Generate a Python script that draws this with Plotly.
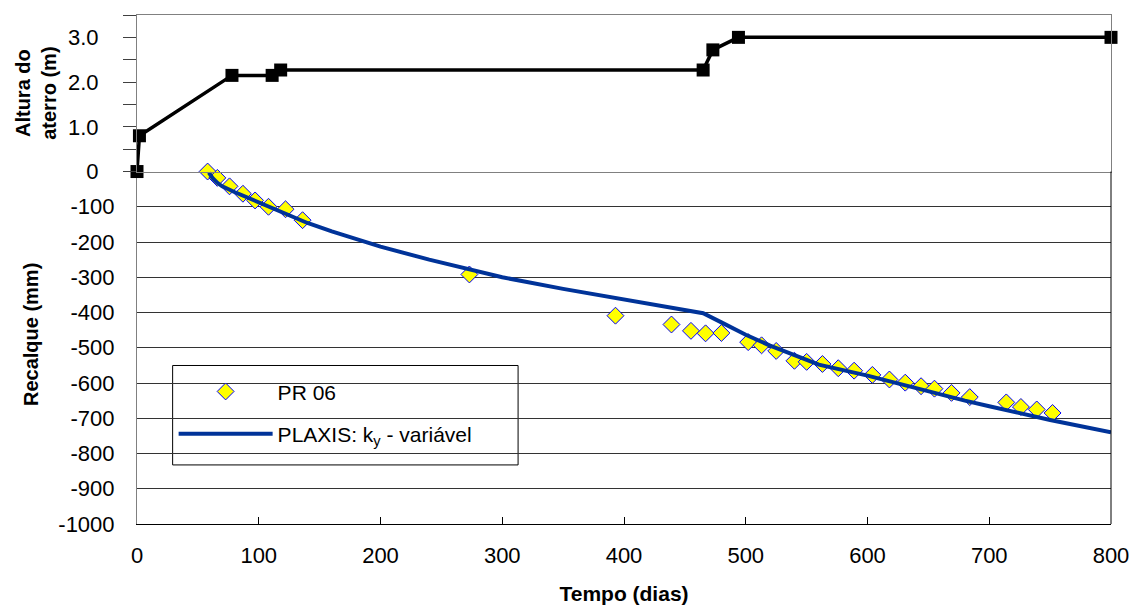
import plotly.graph_objects as go

# ---- data ----
fill_days = [0, 2, 78, 111, 118, 465, 473, 494, 800]
fill_height_m = [0, 0.8, 2.15, 2.15, 2.27, 2.27, 2.72, 3.0, 3.0]

pr06_days = [58, 66, 76, 87, 97, 108, 122, 136, 273, 393, 439, 455, 467, 480,
             502, 513, 525, 540, 550, 563, 576, 589, 604, 618, 631, 644, 655,
             669, 684, 714, 726, 739, 752]
pr06_mm = [0, -18, -42, -63, -82, -100, -107, -138, -292, -409, -434, -452,
           -459, -458, -484, -493, -509, -537, -540, -546, -558, -565, -577,
           -590, -599, -609, -616, -628, -640, -655, -668, -675, -685]

plaxis_days = [59, 62, 66, 70, 80, 90, 100, 110, 120, 140, 160, 200, 240, 300,
               350, 400, 440, 465, 480, 500, 520, 540, 560, 600, 640, 680, 700,
               750, 800]
plaxis_mm = [-3, -18, -32, -42, -58, -73, -88, -103, -118, -146, -170, -213,
             -250, -300, -333, -364, -386, -402, -428, -463, -494, -522, -548,
             -579, -615, -650, -666, -705, -740]

x_ticks = [0, 100, 200, 300, 400, 500, 600, 700, 800]
y_ticks_mm = [-1000, -900, -800, -700, -600, -500, -400, -300, -200, -100]
y_ticktext_mm = ["-1000", "-900", "-800", "-700", "-600", "-500", "-400",
                 "-300", "-200", "-100"]
y_ticks_m = [0, 1.0, 2.0, 3.0]
y_ticktext_m = ["0", "1.0", "2.0", "3.0"]

FONT = "Liberation Sans, Arial, sans-serif"
split = 358 / 517

fig = go.Figure()

fig.add_trace(go.Scatter(
    x=fill_days, y=fill_height_m, xaxis="x2", yaxis="y2",
    mode="lines+markers", showlegend=False, cliponaxis=False,
    line=dict(color="black", width=3.5),
    marker=dict(symbol="square", size=13, color="black"),
))

fig.add_trace(go.Scatter(
    x=pr06_days, y=pr06_mm, mode="markers", name="PR 06",
    legendgroup="a", cliponaxis=False,
    marker=dict(symbol="diamond", size=13, color="#FFFF00",
                line=dict(color="#0000FF", width=1)),
))

fig.add_trace(go.Scatter(
    x=plaxis_days, y=plaxis_mm, mode="lines",
    name="PLAXIS: k<sub>y</sub> - variável", legendgroup="b",
    line=dict(color="#003399", width=4),
))

fig.update_layout(
    width=1141, height=613,
    margin=dict(l=137, r=20, t=15, b=81),
    paper_bgcolor="white", plot_bgcolor="white",
    font=dict(family=FONT, size=22, color="black"),
    xaxis=dict(
        domain=[0, 1], range=[0, 800], tickvals=x_ticks,
        ticks="inside", ticklen=7, tickcolor="black",
        showline=True, linecolor="black", linewidth=1,
        showgrid=False, zeroline=False, anchor="y",
        ticklabelstandoff=12,
        tickfont=dict(size=22),
        title=dict(text="<b>Tempo (dias)</b>", font=dict(size=21), standoff=18),
    ),
    yaxis=dict(
        domain=[0, split], range=[-1000, 0], tickvals=y_ticks_mm,
        ticktext=y_ticktext_mm,
        ticks="", showline=True, linecolor="#808080", linewidth=1,
        showgrid=True, gridcolor="#333333", gridwidth=1,
        zeroline=False, anchor="x", ticklabelstandoff=17,
        tickfont=dict(size=22),
    ),
    xaxis2=dict(
        domain=[0, 1], range=[0, 800], matches="x", anchor="y2",
        showticklabels=False, ticks="", showgrid=False, zeroline=False,
        showline=True, linecolor="#808080", linewidth=1, mirror=True,
    ),
    yaxis2=dict(
        domain=[split, 1], range=[0, 3.5], tickvals=y_ticks_m,
        ticktext=y_ticktext_m, anchor="x2",
        ticks="outside", ticklen=13, tickcolor="#404040",
        minor=dict(dtick=0.5, ticks="outside", ticklen=13,
                   tickcolor="#404040", showgrid=False),
        showline=True, linecolor="#808080", linewidth=1, mirror=True,
        showgrid=False, zeroline=False, ticklabelstandoff=20,
        tickfont=dict(size=22),
    ),
    legend=dict(
        x=(174 - 137) / 984, y=0.30, xanchor="left", yanchor="top",
        bgcolor="rgba(0,0,0,0)", borderwidth=0,
        font=dict(size=21), itemwidth=94,
        tracegroupgap=12, traceorder="grouped",
    ),
    shapes=[
        dict(type="rect", xref="paper", yref="paper",
             x0=(173 - 137) / 984, x1=(522 - 137) / 984,
             y0=(532 - 472) / 517, y1=(532 - 371) / 517,
             line=dict(color="black", width=1), fillcolor="white",
             layer="below"),
        dict(type="line", xref="x domain", yref="y domain",
             x0=1, x1=1, y0=0, y1=1, line=dict(color="black", width=1)),
    ],
    annotations=[
        dict(text="<b>Recalque (mm)</b>", textangle=-90, xref="paper",
             yref="paper", x=(30 - 137) / 984, y=(532 - 340) / 517,
             xanchor="center", yanchor="middle",
             showarrow=False, font=dict(size=20)),
        dict(text="<b>Altura do<br>aterro (m)</b>", textangle=-90,
             xref="paper", yref="paper", x=(35 - 137) / 984,
             y=(532 - 95) / 517, xanchor="center", yanchor="middle",
             showarrow=False, font=dict(size=20)),
    ],
)

fig.write_html(
    "out.html",
    config={"displayModeBar": False},
    post_script="document.body.style.margin='0';document.body.style.overflow='hidden';",
)
